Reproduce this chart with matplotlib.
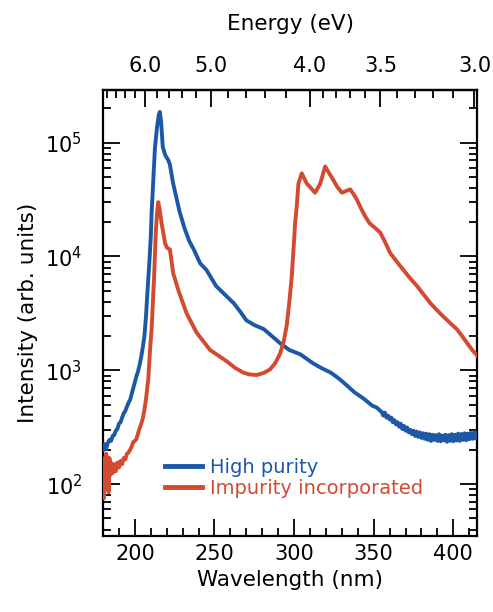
import numpy as np
import matplotlib
matplotlib.use("Agg")
import matplotlib.pyplot as plt
from matplotlib.ticker import MultipleLocator, FixedLocator, LogLocator, FormatStrFormatter

plt.rcParams["font.family"] = ["DejaVu Sans"]

# ---- data ----
# high purity sample (blue)
wl_high = [180, 181, 182, 183, 184, 185, 186, 187, 188, 189, 190, 191, 192, 193,
           194, 195, 196, 197, 198, 199, 200, 201, 202, 203, 204, 205, 206, 207,
           208, 209, 210, 210.5, 211.5, 212.6, 214, 215, 215.7, 216.5, 217.5, 219,
           221, 222, 224, 226, 228, 231, 234, 237, 241, 245, 251, 256, 262, 266,
           270, 275, 281, 286, 291, 297, 304, 312, 317, 323, 328, 333, 338, 344,
           349, 352, 355, 356, 357, 358, 359, 360, 361, 362, 363, 364, 365, 366,
           367, 368, 369, 370, 371, 372, 373, 374, 375, 376, 377, 378, 379, 380,
           381, 382, 383, 384, 385, 386, 387, 388, 389, 390, 391, 392, 393, 394,
           395, 396, 397, 398, 399, 400, 401, 402, 403, 404, 405, 406, 407, 408,
           409, 410, 411, 412, 413, 414, 415]
int_high = [200, 225, 205, 230, 245, 240, 265, 270, 295, 305, 340, 350, 385, 420,
            440, 480, 520, 550, 620, 700, 790, 890, 980, 1120, 1320, 1600, 2000, 3000,
            5200, 8500, 15000, 24000, 45000, 90000, 140000, 175000, 186000, 150000, 92000, 78000,
            70000, 64000, 44000, 33000, 25000, 18000, 13800, 11500, 8700, 7600, 5500, 4700, 3900, 3300,
            2750, 2500, 2300, 2000, 1740, 1510, 1380, 1150, 1050, 955, 850, 740, 640, 560,
            490, 470, 430, 400, 425, 385, 400, 370, 385, 350, 365, 335, 350, 320,
            340, 305, 325, 295, 315, 285, 300, 275, 295, 265, 290, 260, 285, 255,
            280, 250, 278, 245, 275, 240, 272, 245, 270, 240, 275, 238, 268, 242,
            272, 236, 270, 240, 275, 238, 272, 242, 278, 240, 276, 245, 280, 243,
            278, 248, 282, 250, 285, 252, 280]

# impurity incorporated sample (red)
wl_imp = [180, 180.5, 181, 181.5, 182, 182.5, 183, 183.5, 184, 184.5, 185, 186, 187,
          188, 189, 190, 191, 192, 193, 194, 195, 196, 197, 198, 199, 200, 201, 202,
          203, 204, 205, 206, 207, 208, 208.4, 209.5, 210.5, 212, 213.2, 214, 214.7, 215.5,
          216.8, 218.9, 220, 222, 224.1, 227.2, 232.5, 238.8, 247.2, 257.7, 263, 268.1,
          272, 276.5, 281, 284.9, 288, 291.2, 293.5, 295.4, 297, 298.5, 300, 300.6,
          301.7, 302.7, 304.8, 306.5, 308, 310.5, 313.2, 316.4, 319.5, 322, 324.7, 327,
          330, 332.5, 335.2, 337.5, 339.4, 342, 344.7, 347.5, 350.9, 354.1, 357, 360.4,
          364.5, 368.7, 373, 377.2, 381.5, 385.5, 389.5, 393.9, 398, 402.3, 405.5, 408.6,
          412, 415.5]
int_imp = [150, 75, 170, 90, 185, 110, 160, 85, 170, 120, 155, 125, 150,
           130, 155, 140, 160, 150, 170, 165, 185, 190, 200, 215, 235, 240, 250, 280,
           310, 340, 380, 450, 560, 750, 830, 1500, 2300, 6300, 17000, 25000, 30000, 26000,
           19500, 13200, 12000, 11500, 7100, 5100, 3160, 2140, 1510, 1200, 1050, 955,
           920, 910, 950, 1020, 1150, 1400, 1800, 2500, 4000, 6600, 14000, 19500,
           28000, 43600, 53700, 48000, 43600, 40000, 36300, 43600, 61700, 54000, 46800, 41000,
           36300, 37500, 38900, 35000, 31600, 26500, 22400, 19500, 17800, 16200, 13500, 10700,
           9000, 7600, 6400, 5500, 4600, 3900, 3400, 2950, 2600, 2290, 2000, 1740,
           1500, 1320]

labels = ["High purity", "Impurity incorporated"]
colors = ["#1d58a7", "#d44a30"]

energy_major = [6.0, 5.0, 4.0, 3.5, 3.0]
energy_minor = [6.8, 6.6, 6.4, 6.2, 5.8, 5.6, 5.4, 5.2, 4.8, 4.6, 4.4, 4.2,
                3.9, 3.8, 3.7, 3.6, 3.4, 3.3, 3.2, 3.1]

HC = 1239.84


def nm_to_ev(x):
    x = np.asarray(x, dtype=float)
    with np.errstate(divide="ignore", invalid="ignore"):
        return HC / x


fig = plt.figure(figsize=(4.93, 6.12), dpi=100)
ax = fig.add_axes([0.209, 0.124, 0.759, 0.729])

ax.plot(wl_high, int_high, color=colors[0], lw=2.8, label=labels[0], zorder=3)
ax.plot(wl_imp, int_imp, color=colors[1], lw=2.8, label=labels[1], zorder=4)

ax.set_yscale("log")
ax.set_xlim(180, 415)
ax.set_ylim(35, 2.9e5)

ax.xaxis.set_major_locator(MultipleLocator(50))
ax.xaxis.set_minor_locator(MultipleLocator(10))
ax.yaxis.set_major_locator(LogLocator(base=10))
ax.yaxis.set_minor_locator(LogLocator(base=10, subs=np.arange(2, 10)))

ax.tick_params(which="both", direction="in", top=False, right=True, width=1.3,
               labelsize=15)
ax.tick_params(axis="x", which="major", length=12, pad=6)
ax.tick_params(axis="x", which="minor", length=6)
ax.tick_params(axis="y", which="major", length=12, pad=15)
ax.tick_params(axis="y", which="minor", length=6)
for s in ax.spines.values():
    s.set_linewidth(1.6)

ax.set_xlabel("Wavelength (nm)", fontsize=15.5, labelpad=4)
ax.set_ylabel("Intensity (arb. units)", fontsize=15.5, labelpad=5)

# top energy axis
secax = ax.secondary_xaxis("top", functions=(nm_to_ev, nm_to_ev))
secax.xaxis.set_major_locator(FixedLocator(energy_major))
secax.xaxis.set_minor_locator(FixedLocator(energy_minor))
secax.xaxis.set_major_formatter(FormatStrFormatter("%.1f"))
secax.tick_params(which="both", direction="in", width=1.3, labelsize=15)
secax.tick_params(which="major", length=12, pad=10)
secax.tick_params(which="minor", length=6)
secax.spines["top"].set_linewidth(1.6)
secax.set_xlabel("Energy (eV)", fontsize=15.5, labelpad=19)

leg = ax.legend(loc="lower left", bbox_to_anchor=(0.165, 0.086), frameon=False,
                fontsize=14, handlelength=1.9, handletextpad=0.45,
                borderpad=0, borderaxespad=0, labelspacing=0.1,
                labelcolor="linecolor")
for h in leg.get_lines():
    h.set_linewidth(3.5)

fig.savefig("out.png", dpi=100)
